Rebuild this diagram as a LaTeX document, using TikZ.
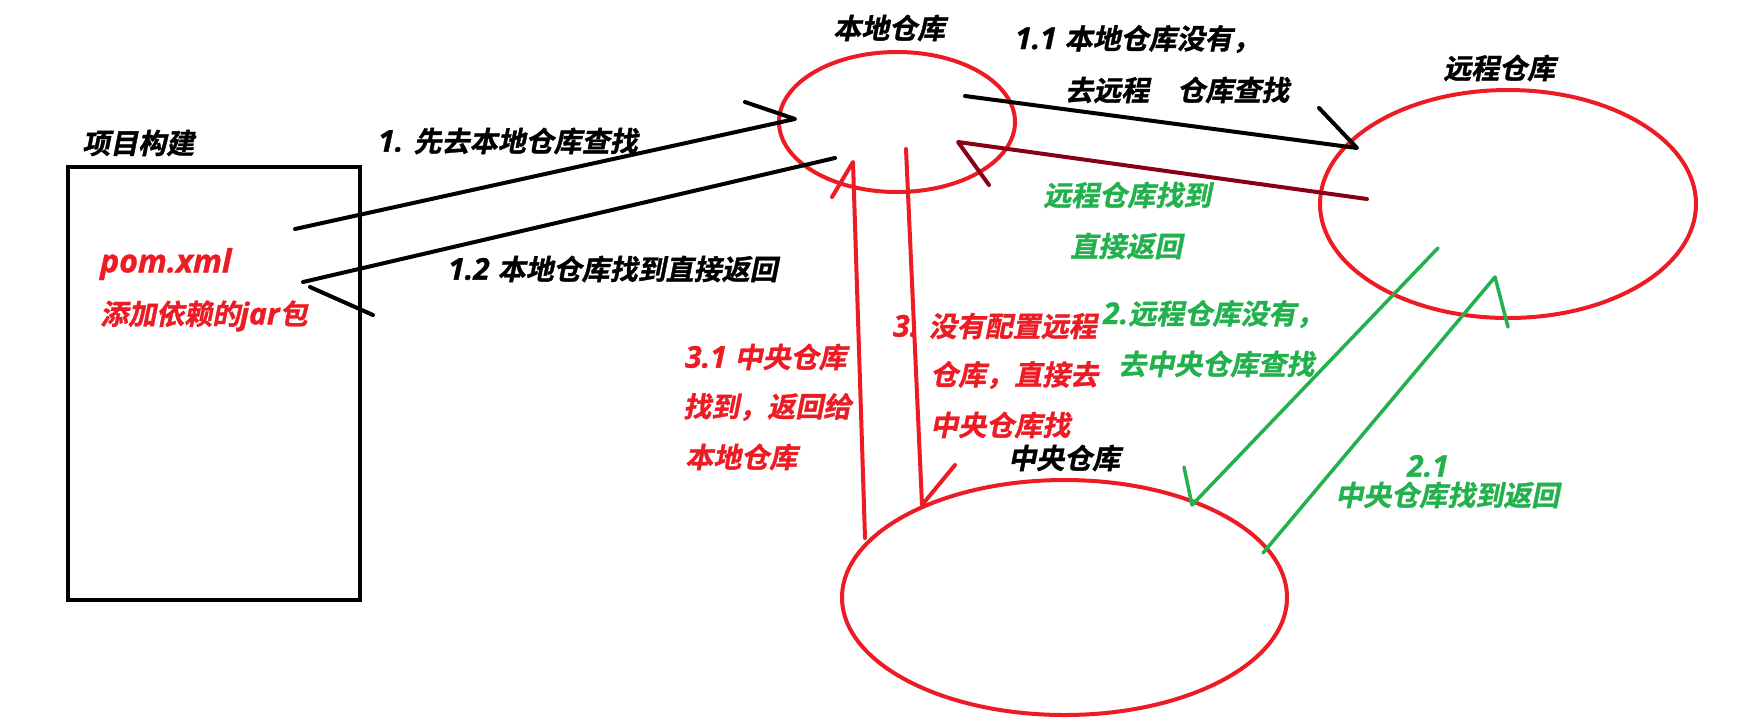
\documentclass[tikz,border=0pt]{standalone}
\usepackage{fontspec}
\usetikzlibrary{shapes.geometric}
\newfontfamily\cjk{Noto Sans CJK SC Bold}[FakeSlant=0.2,FakeBold=1.2]
\newfontfamily\lat{Open Sans}[BoldItalicFeatures={FakeBold=1.2}]
\definecolor{pred}{RGB}{237,28,36}
\definecolor{pgreen}{RGB}{34,177,76}
\definecolor{pdark}{RGB}{136,0,21}
\newcommand{\latx}[1]{{\lat\bfseries\itshape\fontsize{30}{32}\selectfont #1}}
\begin{document}
\begin{tikzpicture}[x=1pt,y=-1pt,
  lbl/.style={inner sep=0pt, anchor=west, font=\cjk\fontsize{28}{32}\selectfont},
  stroke/.style={line width=4pt, line cap=round, line join=round},
  gstroke/.style={line width=3.5pt, line cap=round, line join=round, draw=pgreen},
  repo/.style={ellipse, draw=pred, line width=4pt, inner sep=0pt},
  projbox/.style={rectangle, draw=black, line width=4pt, inner sep=0pt}]
\useasboundingbox[fill=white] (0,0) rectangle (1752,724);

% shapes
\node[projbox, minimum width=292pt, minimum height=433pt] (proj) at (214,383.5) {};
\node[repo, minimum width=236pt, minimum height=140pt] (local) at (897,122) {};
\node[repo, minimum width=376pt, minimum height=228pt] (remote) at (1508,204) {};
\node[repo, minimum width=445pt, minimum height=235pt] (central) at (1064.5,597.5) {};

% labels
\node[lbl] (tproj) at (82,143) {项目构建};
\node[lbl, text=pred] (tpom) at (100,264) {{\lat\bfseries\itshape\fontsize{32}{34}\selectfont pom.xml}};
\node[lbl, text=pred] (tjar) at (100,316) {添加依赖的\latx{jar}包};
\node[lbl] (t1) at (378,141) {\latx{1. }先去本地仓库查找};
\node[lbl] (t12) at (448,269) {\latx{1.2 }本地仓库找到直接返回};
\node[lbl] (tlocal) at (833,28) {本地仓库};
\node[lbl] (t11a) at (1015,39) {\latx{1.1 }本地仓库没有，};
\node[lbl] (t11b) at (1065,90) {去远程　仓库查找};
\node[lbl] (tremote) at (1443,68) {远程仓库};
\node[lbl, text=pgreen] (tfa) at (1043,195) {远程仓库找到};
\node[lbl, text=pgreen] (tfb) at (1070,246) {直接返回};
\node[lbl, text=pgreen] (t2a) at (1103,314) {\latx{2.}远程仓库没有，};
\node[lbl, text=pgreen] (t2b) at (1118,364) {去中央仓库查找};
\node[lbl, text=pgreen] (t21a) at (1407,466) {\latx{2.1}};
\node[lbl, text=pgreen] (t21b) at (1335,495) {中央仓库找到返回};
\node[lbl] (tcentral) at (1008,458) {中央仓库};
\node[lbl, text=pred] (t31a) at (685,357) {\latx{3.1 }中央仓库};
\node[lbl, text=pred] (t31b) at (683,407) {找到，返回给};
\node[lbl, text=pred] (t31c) at (685,457) {本地仓库};
\node[lbl, text=pred] (t3a) at (893,326) {\latx{3. }没有配置远程};
\node[lbl, text=pred] (t3b) at (930,375) {仓库，直接去};
\node[lbl, text=pred] (t3c) at (930,425) {中央仓库找};

% connector end points
\coordinate (a1s) at (295,229);
\coordinate (a1t) at (795,119);
\coordinate (a1b) at (745,102);
\coordinate (a12s) at (835,158);
\coordinate (a12t) at (303,282);
\coordinate (a12b1) at (310,287);
\coordinate (a12b2) at (373,315);
\coordinate (a11s) at (965,96);
\coordinate (a11t) at (1357,148);
\coordinate (a11b) at (1319,108);
\coordinate (drs) at (1367,199);
\coordinate (drt) at (958,142);
\coordinate (drb) at (989,185);
\coordinate (g2s) at (1438,248);
\coordinate (g2t) at (1192,505);
\coordinate (g2b) at (1184,467);
\coordinate (g21s) at (1263,553);
\coordinate (g21t) at (1495,277);
\coordinate (g21b) at (1508,327);
\coordinate (r31s) at (865,538);
\coordinate (r31t) at (853,162);
\coordinate (r31b) at (832,197);
\coordinate (r3s) at (906,149);
\coordinate (r3t) at (922,505);
\coordinate (r3b) at (955,465);

% connectors
\draw[stroke] (a1s) -- (a1t) -- (a1b);
\draw[stroke] (a12s) -- (a12t);
\draw[stroke] (a12b1) -- (a12b2);
\draw[stroke] (a11s) -- (a11t) -- (a11b);
\draw[stroke, draw=pdark] (drs) -- (drt) -- (drb);
\draw[gstroke] (g2s) -- (g2t) -- (g2b);
\draw[gstroke] (g21s) -- (g21t) -- (g21b);
\draw[stroke, draw=pred] (r31s) -- (r31t) -- (r31b);
\draw[stroke, draw=pred] (r3s) -- (r3t) -- (r3b);
\end{tikzpicture}
\end{document}
